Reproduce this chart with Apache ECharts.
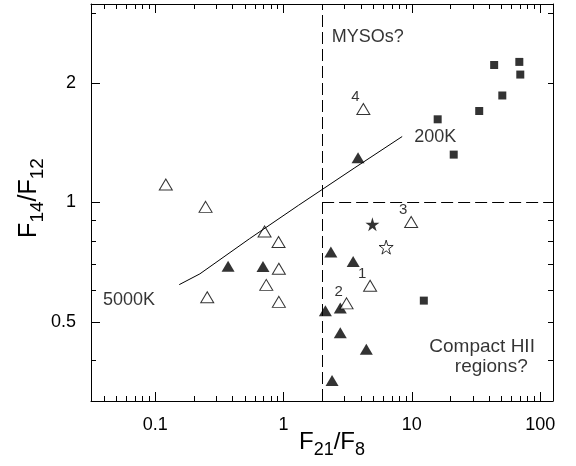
<!DOCTYPE html>
<html>
<head>
<meta charset="utf-8">
<script src="https://cdn.jsdelivr.net/npm/echarts@6.0.0/dist/echarts.min.js"></script>
<style>
  html, body { margin: 0; padding: 0; background: #fff; }
  #chart { width: 576px; height: 466px; }
</style>
</head>
<body>
<div id="chart"></div>
<script>
// axis extents (10^-1.5 .. 10^2.1 and 10^-0.5 .. 10^0.5)
const xMin = 0.03162, xMax = 125.9;
const yMin = 0.3162, yMax = 3.162;

// tick values
const xMajor = [0.1, 1, 10, 100];
const xMinor = [0.04, 0.05, 0.06, 0.07, 0.08, 0.09, 0.2, 0.3, 0.4, 0.5, 0.6, 0.7, 0.8, 0.9,
  2, 3, 4, 5, 6, 7, 8, 9, 20, 30, 40, 50, 60, 70, 80, 90];
const yMajor = [0.5, 1, 2];
const yMinor = [0.4, 0.6, 0.7, 0.8, 0.9, 3];
const yRight = [0.4, 0.5, 0.6, 0.7, 0.8, 0.9, 1, 2, 3];

// [F21/F8, F14/F12, label]
const openTriangles = [
  [0.121, 1.11, ''], [0.247, 0.975, ''], [0.712, 0.845, ''], [0.915, 0.795, ''],
  [0.92, 0.681, ''], [0.734, 0.62, ''], [0.92, 0.562, ''], [0.2545, 0.577, ''],
  [4.19, 1.72, '4'], [9.88, 0.893, '3'], [4.73, 0.617, '1'], [3.1, 0.557, '2'],
];
const filledTriangles = [
  [0.37, 0.691], [0.692, 0.69], [3.81, 1.297], [2.34, 0.75], [3.49, 0.71],
  [2.12, 0.534], [2.77, 0.542], [2.77, 0.47], [4.42, 0.427], [2.39, 0.356],
];
const squares = [
  [43.8, 2.22], [68.8, 2.26], [70.0, 2.1], [50.7, 1.86], [33.5, 1.7],
  [15.9, 1.62], [21.2, 1.32], [12.4, 0.566],
];
const filledStars = [[4.93, 0.881]];
const openStars = [[6.31, 0.772]];

// blackbody line, 5000K -> 200K
const bbCurve = [[0.154, 0.621], [0.223, 0.661], [0.545, 0.811], [1.31, 0.984], [3.55, 1.22], [8.41, 1.466]];

// region boundaries
const xCut = 2;
const yCut = 1;

// annotations [x, y, text]
const notes = [
  [0.0625, 0.569, '5000K'],
  [15.2, 1.463, '200K'],
  [4.54, 2.61, 'MYSOs?'],
];
const hiiNotes = [
  [35.3, 0.433, 'Compact HII'],
  [41.6, 0.385, 'regions?'],
];

const FONT = 'Liberation Sans';
const starPath = 'path://M50,0 L61,35 L98,35 L68,57 L79,91 L50,70 L21,91 L32,57 L2,35 L39,35 Z';

const chart = echarts.init(document.getElementById('chart'));

const axisBase = (type, pos, vals, len, labels, line) => ({
  type: 'log',
  logBase: 10,
  position: pos,
  min: type === 'x' ? xMin : yMin,
  max: type === 'x' ? xMax : yMax,
  axisLine: { show: line, lineStyle: { color: '#000', width: 1 } },
  axisTick: { show: true, inside: true, length: len, customValues: vals, lineStyle: { color: '#000', width: 1 } },
  axisLabel: labels
    ? { show: true, customValues: vals, color: '#000', fontFamily: FONT, fontSize: 18, margin: type === 'x' ? 15 : 15 }
    : { show: false },
  splitLine: { show: false },
  minorTick: { show: false },
});

const noteSeries = (data, size) => ({
  type: 'scatter',
  data: data,
  symbolSize: 1,
  silent: true,
  itemStyle: { color: 'transparent' },
  label: {
    show: true,
    position: 'inside',
    formatter: (p) => p.data[2],
    color: '#000',
    fontFamily: FONT,
    fontSize: size,
  },
});

const option = {
  animation: false,
  backgroundColor: '#fff',
  grid: { left: 91, top: 4, right: 23, bottom: 65 },
  xAxis: [
    axisBase('x', 'bottom', xMajor, 9, true, true),
    axisBase('x', 'bottom', xMinor, 5, false, false),
    axisBase('x', 'top', xMajor, 9, false, true),
    axisBase('x', 'top', xMinor, 5, false, false),
  ],
  yAxis: [
    axisBase('y', 'left', yMajor, 9, true, true),
    axisBase('y', 'left', yMinor, 5, false, false),
    axisBase('y', 'right', yRight, 5, false, true),
  ],
  graphic: [
    {
      type: 'text',
      x: 332,
      y: 430,
      style: {
        text: '{f|F}{s|21}{f|/F}{s|8}',
        align: 'center',
        verticalAlign: 'top',
        rich: {
          f: { fontFamily: FONT, fontSize: 24, lineHeight: 24, verticalAlign: 'top', fill: '#000' },
          s: { fontFamily: FONT, fontSize: 18, lineHeight: 29, verticalAlign: 'bottom', fill: '#000' },
        },
      },
    },
    {
      type: 'text',
      x: 17,
      y: 198,
      rotation: Math.PI / 2,
      style: {
        text: '{f|F}{s|14}{f|/F}{s|12}',
        align: 'center',
        verticalAlign: 'top',
        rich: {
          f: { fontFamily: FONT, fontSize: 25, lineHeight: 25, verticalAlign: 'top', fill: '#000' },
          s: { fontFamily: FONT, fontSize: 19, lineHeight: 30, verticalAlign: 'bottom', fill: '#000' },
        },
      },
    },
  ],
  series: [
    {
      // blackbody curve + dashed region lines
      type: 'line',
      data: bbCurve,
      showSymbol: false,
      symbol: 'none',
      lineStyle: { color: '#000', width: 1 },
      silent: true,
      markLine: {
        symbol: 'none',
        silent: true,
        label: { show: false },
        lineStyle: { color: '#000', width: 1, type: [12, 5] },
        data: [
          { xAxis: xCut },
          [{ coord: [xCut, yCut] }, { coord: [xMax, yCut] }],
        ],
      },
    },
    {
      type: 'scatter',
      data: squares,
      symbol: 'rect',
      symbolSize: 8,
      itemStyle: { color: '#000' },
    },
    {
      type: 'scatter',
      data: filledTriangles,
      symbol: 'triangle',
      symbolSize: [13, 11],
      itemStyle: { color: '#000' },
    },
    {
      type: 'scatter',
      data: openTriangles,
      symbol: 'triangle',
      symbolSize: [13, 11],
      itemStyle: { color: '#fff', borderColor: '#000', borderWidth: 1 },
      label: {
        show: true,
        position: 'inside',
        offset: [-8, -12],
        formatter: (p) => p.data[2],
        color: '#000',
        fontFamily: FONT,
        fontSize: 15,
      },
    },
    {
      type: 'scatter',
      data: filledStars,
      symbol: starPath,
      symbolSize: 14,
      itemStyle: { color: '#000' },
    },
    {
      type: 'scatter',
      data: openStars,
      symbol: starPath,
      symbolSize: 14,
      itemStyle: { color: '#fff', borderColor: '#000', borderWidth: 1 },
    },
    noteSeries(notes, 18),
    noteSeries(hiiNotes, 19),
  ],
};
chart.setOption(option);
</script>
</body>
</html>
